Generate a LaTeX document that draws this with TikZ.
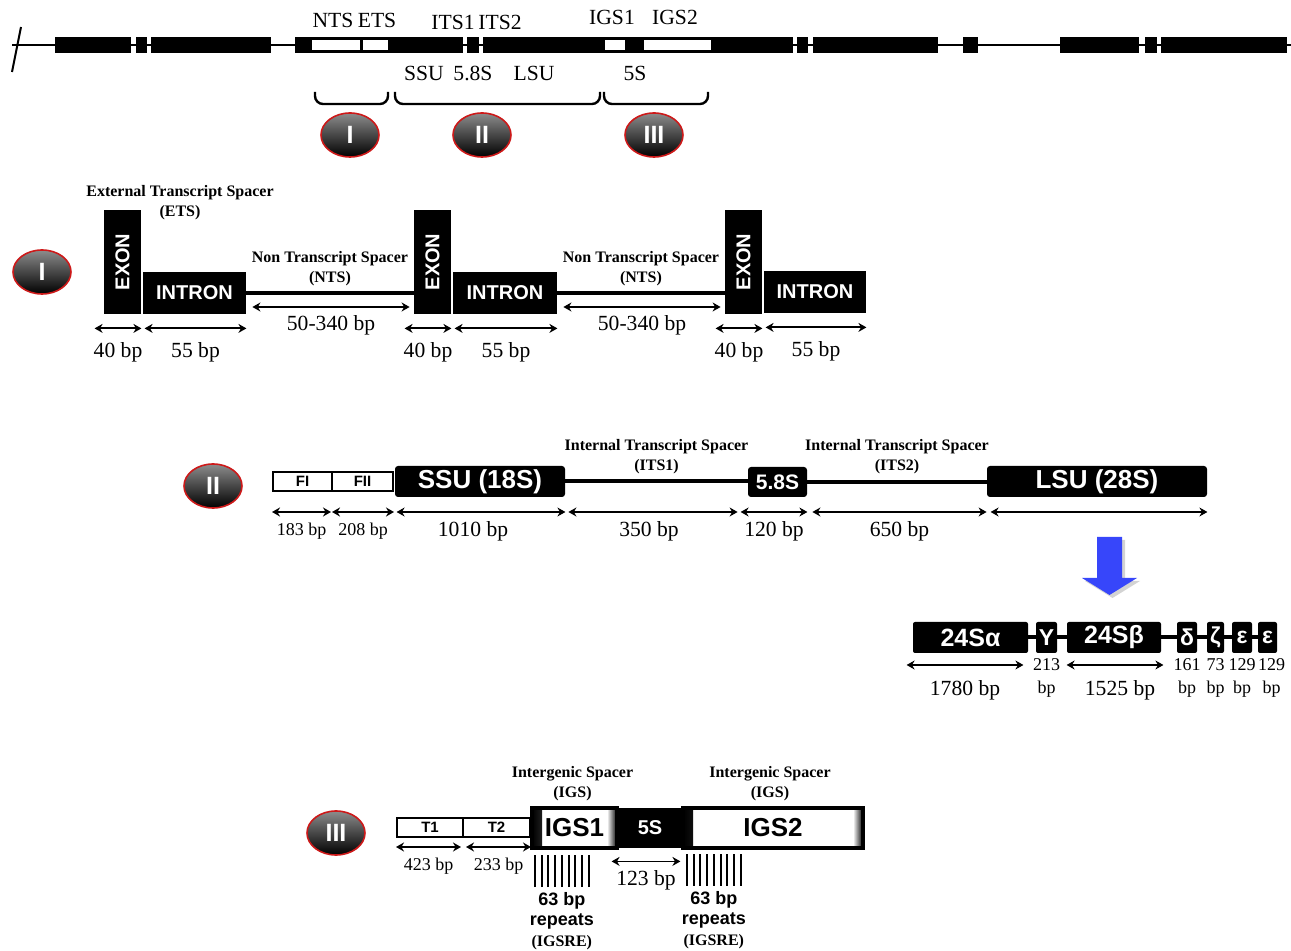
\documentclass[tikz,border=0pt]{standalone}
\usepackage{fontspec}
\setmainfont{Liberation Serif}
\setsansfont{Liberation Sans}
\usepackage{graphicx}
\usetikzlibrary{arrows.meta, positioning, calc, shapes.geometric, shadows}

\definecolor{ringred}{RGB}{205,25,25}
\definecolor{downblue}{RGB}{55,70,250}

\begin{document}
\begin{tikzpicture}[
    x=0.5pt, y=-0.5pt,
    >={Stealth[length=4pt,width=4.5pt]},
    lbl/.style={font=\fontsize{10.8}{13}\selectfont, inner sep=0pt},
    smalllbl/.style={font=\fontsize{9}{11.5}\selectfont, inner sep=0pt, align=center},
    spacer/.style={font=\fontsize{8}{10}\selectfont\bfseries, align=center, inner sep=0pt},
    roman/.style={
        ellipse,
        minimum width=29pt,
        minimum height=22pt,
        inner sep=0pt,
        draw=ringred,
        line width=0.8pt,
        top color=black!45,
        middle color=black,
        bottom color=black,
        text=white,
        font=\sffamily\bfseries\fontsize{12.5}{12}\selectfont
    },
    blk/.style={
        rectangle,
        fill=black,
        text=white,
        inner sep=0pt,
        font=\sffamily\bfseries\fontsize{10}{12}\selectfont
    },
    exonbox/.style={blk, minimum width=18.5pt, minimum height=52pt},
    intronbox/.style={blk, minimum height=21pt},
    rnabox/.style={
        blk,
        rounded corners=1.5pt,
        minimum height=15.5pt,
        font=\sffamily\bfseries\fontsize{13}{13}\selectfont
    },
    subbox/.style={
        blk,
        rounded corners=1pt,
        minimum height=15.5pt,
        font=\sffamily\bfseries\fontsize{11.5}{12}\selectfont
    },
    openbox/.style={
        rectangle,
        draw=black,
        line width=1pt,
        fill=white,
        inner sep=0pt,
        minimum height=9.5pt,
        font=\sffamily\bfseries\fontsize{7.5}{8}\selectfont
    },
    igsbox/.style={
        rectangle,
        draw=black,
        line width=1.6pt,
        fill=white,
        inner sep=0pt,
        minimum height=20pt,
        font=\sffamily\bfseries\fontsize{13}{13}\selectfont,
        path picture={
            \shade[left color=black, right color=white]
                (path picture bounding box.south west) rectangle
                ([xshift=5pt]path picture bounding box.north west);
            \shade[left color=white, right color=black]
                ([xshift=-5pt]path picture bounding box.south east) rectangle
                (path picture bounding box.north east);
        }
    },
    hatch/.style={
        rectangle,
        minimum width=28pt,
        minimum height=16pt,
        inner sep=0pt,
        path picture={
            \foreach \i in {0,...,8}
                \draw[line width=1pt] ([xshift=0.6pt+\i*3.35pt]path picture bounding box.south west) -- ++(0pt,16pt);
        }
    },
    repeatlbl/.style={font=\sffamily\bfseries\fontsize{9}{10}\selectfont, align=center, inner sep=0pt},
    spline/.style={line width=2pt},
    dim/.style={<->, line width=0.9pt},
    bracket/.style={line width=1.2pt, rounded corners=4pt}
]

\useasboundingbox (0,0) rectangle (1291,951);

% --- Gene map ----------------------------------------------------------------

\draw[line width=1pt] (12,45) -- (1291,45);
\draw[line width=1pt] (12,72) -- (21,27);
\foreach \xa/\xb in {55/131, 136/147, 151/271, 295/310, 389/463, 467/479, 483/603,
                     626/642, 712/793, 797/808, 813/938, 963/978, 1060/1139, 1145/1157, 1161/1287}
    \fill (\xa,37) rectangle (\xb,53);
\foreach \xa/\xb in {310/361, 361/389, 603/626, 642/712}
    \draw[line width=1.5pt, fill=white] (\xa,38.5) rectangle (\xb,51.5);

\node[lbl] (mapnts) at (333,20) {NTS};
\node[lbl] (mapets) at (377,20) {ETS};
\node[lbl] (mapits1) at (453,22) {ITS1};
\node[lbl] (mapits2) at (500,22) {ITS2};
\node[lbl] (mapigs1) at (612,17) {IGS1};
\node[lbl] (mapigs2) at (675,17) {IGS2};
\node[lbl] (mapssu) at (424,73) {SSU};
\node[lbl] (map58s) at (473,73) {5.8S};
\node[lbl] (maplsu) at (534,73) {LSU};
\node[lbl] (map5s) at (635,73) {5S};

\draw[bracket] (315,92) |- (388,104) -- (388,92);
\draw[bracket] (395,92) |- (600,104) -- (600,92);
\draw[bracket] (604,92) |- (708,104) -- (708,92);

\node[roman] (topI) at (350,135) {I};
\node[roman] (topII) at (482,135) {II};
\node[roman] (topIII) at (654,135) {III};

% --- Region I: ETS / NTS -----------------------------------------------------

\node[roman] (secI) at (42,272) {I};

\node[exonbox] (ex1) at (122.5,262) {\rotatebox{90}{EXON}};
\node[intronbox, minimum width=51.5pt] (in1) at (194.5,293) {INTRON};
\node[exonbox] (ex2) at (432.5,262) {\rotatebox{90}{EXON}};
\node[intronbox, minimum width=52pt] (in2) at (505,293) {INTRON};
\node[exonbox] (ex3) at (743.5,262) {\rotatebox{90}{EXON}};
\node[intronbox, minimum width=51pt] (in3) at (815,292) {INTRON};

\node[spacer] (etslbl) at (180,203) {External Transcript Spacer\\(ETS)};

\draw[spline] (in1.east) -- (in1.east -| ex2.west)
    node[spacer, midway, above=2.5pt] (nts1) {Non Transcript Spacer\\(NTS)};
\draw[spline] (in2.east) -- (in2.east -| ex3.west)
    node[spacer, midway, above=2.5pt] (nts2) {Non Transcript Spacer\\(NTS)};

\draw[dim] ([xshift=-4.5pt,yshift=-7pt]ex1.south west) -- ([yshift=-7pt]ex1.south east)
    node[lbl, midway, yshift=-12pt] {40 bp};
\draw[dim] ([xshift=1pt,yshift=-7pt]in1.south west) -- ([yshift=-7pt]in1.south east)
    node[lbl, midway, yshift=-12pt] {55 bp};
\draw[dim] ([xshift=-4.5pt,yshift=-7pt]ex2.south west) -- ([yshift=-7pt]ex2.south east)
    node[lbl, midway, yshift=-12pt] {40 bp};
\draw[dim] ([xshift=1pt,yshift=-7pt]in2.south west) -- ([yshift=-7pt]in2.south east)
    node[lbl, midway, yshift=-12pt] {55 bp};
\draw[dim] ([xshift=-4.5pt,yshift=-7pt]ex3.south west) -- ([yshift=-7pt]ex3.south east)
    node[lbl, midway, yshift=-12pt] {40 bp};
\draw[dim] ([xshift=1pt,yshift=-7pt]in3.south west) -- ([yshift=-7pt]in3.south east)
    node[lbl, midway, yshift=-12pt] {55 bp};

\draw[dim] ([xshift=3pt,yshift=-7pt]in1.east) -- ([xshift=-2pt,yshift=-7pt]in1.east -| ex2.west)
    node[lbl, midway, yshift=-9pt] {50-340 bp};
\draw[dim] ([xshift=3pt,yshift=-7pt]in2.east) -- ([xshift=-2pt,yshift=-7pt]in2.east -| ex3.west)
    node[lbl, midway, yshift=-9pt] {50-340 bp};

% --- Region II: rRNA genes ---------------------------------------------------

\node[roman] (secII) at (213,486) {II};

\node[openbox, minimum width=29.5pt] (fi) at (302.5,481.5) {FI};
\node[openbox, minimum width=30.5pt] (fii) at (362.5,481.5) {FII};
\node[rnabox, minimum width=85pt] (ssu) at (480,481.5) {SSU (18S)};
\node[rnabox, minimum width=29.5pt, minimum height=15pt,
      font=\sffamily\bfseries\fontsize{10.5}{12}\selectfont] (s58) at (777.5,482) {5.8S};
\node[rnabox, minimum width=110pt] (lsu) at (1097,481.5) {LSU (28S)};

\draw[spline] (ssu.east) -- (ssu.east -| s58.west)
    node[spacer, midway, above=3pt] (its1) {Internal Transcript Spacer\\(ITS1)};
\draw[spline] (s58.east) -- (s58.east -| lsu.west)
    node[spacer, midway, above=3pt] (its2) {Internal Transcript Spacer\\(ITS2)};

\coordinate (dimII) at (0,512);
\draw[dim] (fi.west |- dimII) -- ([xshift=-1pt]fi.east |- dimII)
    node[smalllbl, midway, yshift=-9.5pt] {183 bp};
\draw[dim] ([xshift=0.5pt]fii.west |- dimII) -- (fii.east |- dimII)
    node[smalllbl, midway, yshift=-9.5pt] {208 bp};
\draw[dim] ([xshift=1pt]ssu.west |- dimII) -- (ssu.east |- dimII)
    node[lbl, midway, xshift=-4pt, yshift=-9.5pt] {1010 bp};
\draw[dim] ([xshift=1.5pt]ssu.east |- dimII) -- ([xshift=-5pt]s58.west |- dimII)
    node[lbl, midway, xshift=-2pt, yshift=-9.5pt] {350 bp};
\draw[dim] ([xshift=-3.5pt]s58.west |- dimII) -- (s58.east |- dimII)
    node[lbl, midway, yshift=-9.5pt] {120 bp};
\draw[dim] ([xshift=2.5pt]s58.east |- dimII) -- (lsu.west |- dimII)
    node[lbl, midway, yshift=-9.5pt] {650 bp};
\draw[dim] ([xshift=2pt]lsu.west |- dimII) -- (lsu.east |- dimII);

\fill[downblue, drop shadow={shadow xshift=1.5pt, shadow yshift=-1.5pt, opacity=0.35}]
    (1097,537) -- (1122,537) -- (1122,578) -- (1137,578) -- (1109.5,595)
    -- (1082,578) -- (1097,578) -- cycle;

% --- LSU subunits ------------------------------------------------------------

\node[subbox, minimum width=57.5pt, font=\sffamily\bfseries\fontsize{12.5}{13}\selectfont] (sa) at (970.5,637.5) {24Sα};
\node[subbox, minimum width=10.5pt] (sy) at (1046.5,637.5) {Y};
\node[subbox, minimum width=47pt, font=\sffamily\bfseries\fontsize{12.5}{13}\selectfont] (sb) at (1114,637.5) {24Sβ};
\node[subbox, minimum width=10pt] (sd) at (1187,637.5) {δ};
\node[subbox, minimum width=8.5pt] (sz) at (1215.5,637.5) {ζ};
\node[subbox, minimum width=10pt] (se1) at (1242,637.5) {ε};
\node[subbox, minimum width=9.5pt] (se2) at (1267.5,637.5) {ε};

\draw[spline] (sa) -- (sy) -- (sb) -- (sd) -- (sz) -- (se1) -- (se2);

\coordinate (dim24) at (0,665);
\draw[dim] ([xshift=-3pt]sa.west |- dim24) -- ([xshift=-2.5pt]sa.east |- dim24)
    node[lbl, midway, yshift=-12.5pt] {1780 bp};
\draw[dim] (sb.west |- dim24) -- ([xshift=1pt]sb.east |- dim24)
    node[lbl, midway, xshift=2.5pt, yshift=-12.5pt] {1525 bp};

\node[smalllbl, below=2.5pt of sy] (syl) {213\\bp};
\node[smalllbl, below=2.5pt of sd] (sdl) {161\\bp};
\node[smalllbl, below=2.5pt of sz] (szl) {73\\bp};
\node[smalllbl, below=2.5pt of se1] (se1l) {129\\bp};
\node[smalllbl, below=2.5pt of se2, xshift=2pt] (se2l) {129\\bp};

% --- Region III: IGS ---------------------------------------------------------

\node[roman] (secIII) at (336,833) {III};

\node[openbox, minimum width=33pt] (t1) at (430,827.5) {T1};
\node[openbox, minimum width=33.5pt] (t2) at (496.5,827.5) {T2};
\node[igsbox, minimum width=42.5pt] (igs1) at (574.5,828) {IGS1};
\node[blk, minimum width=33pt, minimum height=20pt] (s5) at (650,828) {5S};
\node[igsbox, minimum width=90pt] (igs2) at (773,828) {IGS2};

\node[spacer, above=2.5pt of igs1, xshift=-1pt] (igsl1) {Intergenic Spacer\\(IGS)};
\node[spacer, above=2.5pt of igs2, xshift=-1.5pt] (igsl2) {Intergenic Spacer\\(IGS)};

\coordinate (dimIII) at (0,847);
\draw[dim] (t1.west |- dimIII) -- ([xshift=-1.5pt]t1.east |- dimIII)
    node[smalllbl, midway, yshift=-9.5pt] {423 bp};
\draw[dim] ([xshift=2pt]t2.west |- dimIII) -- (t2.east |- dimIII)
    node[smalllbl, midway, yshift=-9.5pt] {233 bp};
\draw[dim] ([xshift=-2.5pt,yshift=-6.5pt]s5.south west) -- ([xshift=-1.5pt,yshift=-6.5pt]s5.south east)
    node[lbl, midway, yshift=-9.5pt] {123 bp};

\node[hatch, below right=2.5pt and 1.5pt of igs1.south west] (repA) {};
\node[hatch, below right=2.5pt and 1pt of s5.south east] (repB) {};

\node[repeatlbl, below=2.5pt of repA] (repAtxt) {63 bp\\repeats\\[0.5pt]{\rmfamily\fontsize{8}{9}\selectfont(IGSRE)}};
\node[repeatlbl, below=2.5pt of repB] (repBtxt) {63 bp\\repeats\\[0.5pt]{\rmfamily\fontsize{8}{9}\selectfont(IGSRE)}};

\end{tikzpicture}
\end{document}
